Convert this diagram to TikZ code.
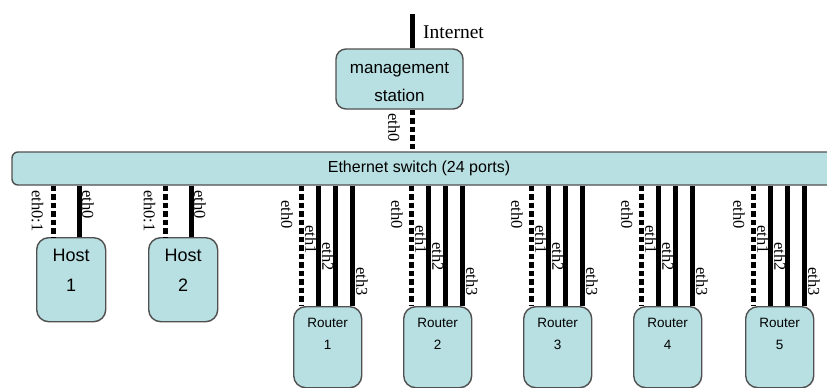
\documentclass[tikz,border=0pt]{standalone}
\usepackage{fontspec}
\setmainfont{Liberation Serif}
\setsansfont{Liberation Sans}
\definecolor{boxfill}{HTML}{B8E0E2}
\definecolor{boxline}{HTML}{505050}
\tikzset{
  box/.style={draw=boxline, line width=1.4pt, fill=boxfill, rounded corners=10pt, inner sep=0pt},
  link/.style={line width=5pt, black},
  dlink/.style={link, dash pattern=on 5.5pt off 3pt},
  port/.style={font=\fontsize{16.5}{16.5}\selectfont, rotate=-90, anchor=west, inner sep=0pt},
  hosttext/.style={font=\sffamily\fontsize{18}{30}\selectfont, align=center, inner sep=0pt},
  routertext/.style={font=\sffamily\fontsize{13.5}{22}\selectfont, align=center, inner sep=0pt},
}
\begin{document}
\begin{tikzpicture}[x=1pt,y=-1pt]
\useasboundingbox (0,0) rectangle (827,388);
\clip (0,0) rectangle (827,388);

% management station and switch
\node[box, minimum width=127pt, minimum height=60pt] (ms) at (399.5,79) {};
\node[font=\sffamily\fontsize{17}{28}\selectfont, align=center, inner sep=0pt] (mst) at (399.5,82) {management\\station};
\node[box, rounded corners=6pt, minimum width=840pt, minimum height=33pt] (sw) at (432,168.5) {};
\node[font=\sffamily\fontsize{16}{16}\selectfont, inner sep=0pt] (swt) at (419,168.5) {Ethernet switch (24 ports)};

% Internet uplink
\coordinate (inet) at (412,14);
\node[font=\fontsize{19.5}{19.5}\selectfont, anchor=west, inner sep=0pt] (inetl) at (423,32.5) {Internet};
\draw[link] (inet) -- (ms.north -| inet);

% management eth0
\coordinate (m0) at (412,0);
\node[port] (ms0l) at (394,113) {eth0};
\draw[dlink] (ms.south -| m0) -- (sw.north -| m0);

% hosts
\foreach \i/\L in {1/36,2/148} {
  \node[box, rounded corners=12pt, minimum width=69pt, minimum height=84pt, anchor=north west] (h\i) at (\L,237) {};
  \node[hosttext] (h\i t) at ([yshift=-33pt]h\i.north) {Host\\\i};
  \coordinate (h\i x0) at (\L+17,0);
  \coordinate (h\i x1) at (\L+43,0);
  \node[port] (h\i l0) at (\L+1.5,190) {eth0:1};
  \node[port] (h\i l1) at (\L+52,190) {eth0};
  \draw[dlink] (sw.south -| h\i x0) -- (h\i.north -| h\i x0);
  \draw[link] (sw.south -| h\i x1) -- (h\i.north -| h\i x1);
}

% routers
\foreach \i/\L in {1/293,2/403,3/523,4/633,5/745} {
  \node[box, rounded corners=12pt, minimum width=68pt, minimum height=81pt, anchor=north west] (r\i) at (\L,306) {};
  \node[routertext] (r\i t) at ([yshift=-28pt]r\i.north) {Router\\\i};
  \coordinate (r\i x0) at (\L+8,0);
  \coordinate (r\i x1) at (\L+25,0);
  \coordinate (r\i x2) at (\L+42,0);
  \coordinate (r\i x3) at (\L+59,0);
  \node[port] (r\i l0) at (\L-6,200) {eth0};
  \node[port] (r\i l1) at (\L+18,225) {eth1};
  \node[port] (r\i l2) at (\L+35,242) {eth2};
  \node[port] (r\i l3) at (\L+69,267) {eth3};
  \draw[dlink] (sw.south -| r\i x0) -- (r\i.north -| r\i x0);
  \draw[link] (sw.south -| r\i x1) -- (r\i.north -| r\i x1);
  \draw[link] (sw.south -| r\i x2) -- (r\i.north -| r\i x2);
  \draw[link] (sw.south -| r\i x3) -- (r\i.north -| r\i x3);
}
\end{tikzpicture}
\end{document}
